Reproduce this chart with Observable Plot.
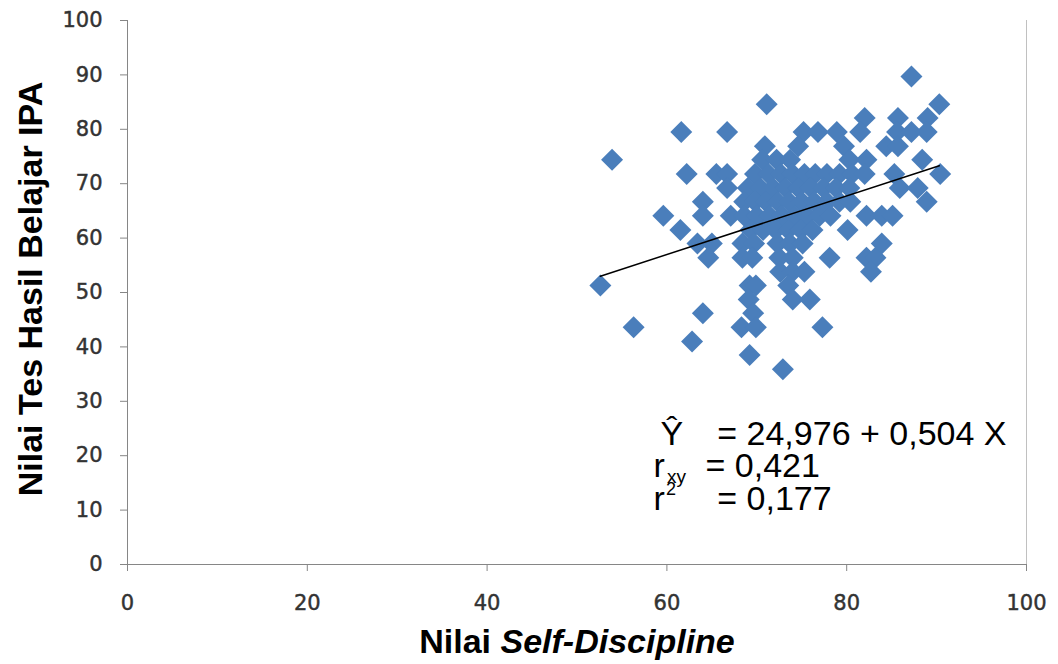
<!DOCTYPE html>
<html>
<head>
<meta charset="utf-8">
<script src="https://cdn.jsdelivr.net/npm/d3@7"></script>
<script src="https://cdn.jsdelivr.net/npm/@observablehq/plot@0.6"></script>
<style>
  body { margin: 0; background: #ffffff; }
  svg { display: block; }
</style>
</head>
<body>
<div id="chart"></div>
<script>
// IPA test score levels (y) and the Self-Discipline scores (x) observed at each level
const ipaLevels = [89.7, 84.6, 82.1, 79.5, 76.9, 74.4, 71.8, 69.2, 66.7, 64.1, 61.5, 59.0, 56.4, 53.8, 51.3, 48.7, 46.2, 43.6, 41.0, 38.5, 35.9];
const selfDisciplineByLevel = [
  [87.2],
  [71.1, 90.3],
  [82.0, 85.7, 89.0],
  [61.6, 66.7, 75.2, 76.8, 78.9, 81.5, 85.6, 87.2, 88.9],
  [70.9, 74.6, 79.7, 84.4, 85.7],
  [53.9, 70.6, 72.2, 73.7, 80.3, 82.2, 88.4],
  [62.2, 65.5, 66.7, 69.8, 71.3, 72.7, 74.0, 75.3, 76.5, 77.8, 79.2, 80.6, 82.0, 85.3, 90.4],
  [66.7, 69.0, 70.4, 71.8, 73.2, 74.6, 76.0, 77.4, 78.8, 80.3, 85.9, 87.9],
  [64.0, 68.6, 69.8, 71.0, 72.3, 73.6, 75.0, 76.4, 77.8, 79.2, 80.4, 88.9],
  [59.6, 64.0, 67.1, 68.6, 70.0, 71.4, 72.8, 74.2, 75.6, 77.0, 78.2, 82.2, 83.9, 85.1],
  [61.5, 69.3, 70.7, 72.1, 73.5, 74.9, 76.2, 80.1],
  [63.4, 65.0, 68.4, 69.7, 72.3, 73.7, 75.1, 83.9],
  [64.6, 68.4, 69.5, 72.5, 74.0, 78.1, 82.2, 83.2],
  [72.6, 74.0, 75.3, 82.7],
  [52.6, 69.2, 69.9, 73.5],
  [69.1, 74.0, 75.9],
  [64.0, 69.6],
  [56.3, 68.3, 69.9, 77.3],
  [62.8],
  [69.2],
  [72.9]
];

// Trend line as drawn in the chart
const trendX = [52.6, 90.3];
const trendY = [53.0, 73.3];

// Axis ticks
const xTicks = [0, 20, 40, 60, 80, 100];
const yTicks = [0, 10, 20, 30, 40, 50, 60, 70, 80, 90, 100];

// Texts
const xTitleMain = "Nilai ";
const xTitleItalic = "Self-Discipline";
const yTitle = "Nilai Tes Hasil Belajar IPA";
const statsMain = ["Ŷ", "= 24,976 + 0,504 X", "r", "= 0,421", "r", "= 0,177"];
const statsSmall = ["xy", "2"];

// ---- build ----
const points = ipaLevels.flatMap((y, i) => selfDisciplineByLevel[i].map(x => ({x, y})));
const trend = trendX.map((x, i) => ({x, y: trendY[i]}));

const mainPosX = [59.3, 65.6, 58.5, 64.3, 58.5, 65.6];
const mainPosY = [22.0, 22.0, 16.1, 16.1, 10.0, 10.0];
const smallPosX = [60.0, 59.9];
const smallPosY = [15.0, 12.7];
const smallSize = [19, 18];

const axisColor = "#868686";
const labelColor = "#333333";
const tickFont = "DejaVu Sans, sans-serif";
const annoFont = "Liberation Sans, Arial, sans-serif";

const chart = Plot.plot({
  width: 1058,
  height: 664,
  marginLeft: 127,
  marginRight: 32,
  marginTop: 20,
  marginBottom: 100,
  style: {fontFamily: tickFont, fontSize: "21px", color: labelColor, background: "#ffffff"},
  x: {domain: [0, 100]},
  y: {domain: [0, 100]},
  marks: [
    Plot.axisX({ticks: xTicks, tickSize: 7, tickPadding: 24, label: null, stroke: axisColor, fill: labelColor}),
    Plot.axisY({ticks: yTicks, tickSize: 7, tickPadding: 18, label: null, stroke: axisColor, fill: labelColor}),
    Plot.ruleX([0], {stroke: axisColor}),
    Plot.ruleY([0], {stroke: axisColor}),
    Plot.ruleX([100], {stroke: "#c0c0c0"}),
    Plot.dot(points, {x: "x", y: "y", symbol: "diamond2", r: 9.9, fill: "#4a7ebb", stroke: "none"}),
    Plot.line(trend, {x: "x", y: "y", stroke: "#000000", strokeWidth: 1.5}),
    Plot.text(statsMain, {
      text: d => d,
      x: (d, i) => mainPosX[i],
      y: (d, i) => mainPosY[i],
      textAnchor: "start",
      lineAnchor: "bottom",
      fontSize: 34,
      fontFamily: annoFont,
      fill: "#000000"
    }),
    Plot.text(statsSmall, {
      text: d => d,
      x: (d, i) => smallPosX[i],
      y: (d, i) => smallPosY[i],
      textAnchor: "start",
      lineAnchor: "bottom",
      fontSize: (d, i) => smallSize[i],
      fontFamily: annoFont,
      fill: "#000000"
    })
  ]
});

const svg = d3.select(chart);

// slightly heavier, darker tick labels like the reference
svg.selectAll('g[aria-label="x-axis tick label"], g[aria-label="y-axis tick label"]')
  .attr("font-size", 21)
  .attr("font-family", tickFont)
  .attr("fill", labelColor)
  .attr("stroke", labelColor)
  .attr("stroke-width", 0.45);

svg.append("text")
  .attr("transform", "translate(42,289) rotate(-90)")
  .attr("text-anchor", "middle")
  .attr("font-family", annoFont)
  .attr("font-weight", "bold")
  .attr("font-size", 34)
  .attr("fill", "#000000")
  .text(yTitle);

const xt = svg.append("text")
  .attr("x", 577)
  .attr("y", 653)
  .attr("text-anchor", "middle")
  .attr("font-family", annoFont)
  .attr("font-weight", "bold")
  .attr("font-size", 34)
  .attr("fill", "#000000");
xt.append("tspan").text(xTitleMain);
xt.append("tspan").attr("font-style", "italic").text(xTitleItalic);

document.getElementById("chart").appendChild(chart);
</script>
</body>
</html>
